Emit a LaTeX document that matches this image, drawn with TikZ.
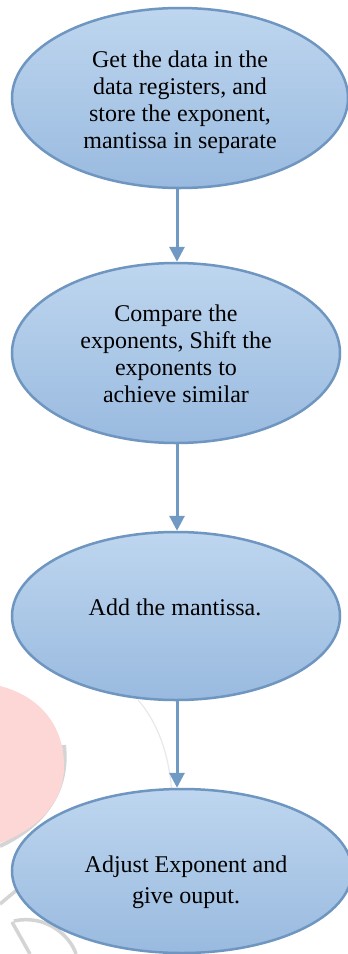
\documentclass[tikz,border=0pt]{standalone}
\usepackage{fontspec}
\setmainfont{Liberation Serif}
\usetikzlibrary{shapes.geometric,arrows.meta}
\definecolor{flowtop}{RGB}{190,214,239}
\definecolor{flowbot}{RGB}{153,186,223}
\definecolor{flowedge}{RGB}{111,150,192}
\definecolor{flowarrow}{RGB}{112,153,196}
\definecolor{markpink}{RGB}{253,214,214}
\definecolor{markgray}{RGB}{212,212,212}
\definecolor{markfaint}{RGB}{232,232,232}
\tikzset{
  stage/.style={ellipse, draw=flowedge, line width=2.5pt, top color=flowtop,
    bottom color=flowbot, inner sep=0pt},
  stagetext/.style={align=center, inner sep=0pt,
    font=\fontsize{24}{27}\selectfont},
  flow/.style={draw=flowarrow, line width=3pt,
    -{Triangle[length=15pt,width=15pt]}},
}
\begin{document}
\begin{tikzpicture}[x=1pt,y=-1pt]
\clip (0,0) rectangle (348,954);
\fill[white] (0,0) rectangle (348,954);

% faint background logo
\draw[markgray, line width=4pt] (64,745) .. controls (69,790) and (45,825) .. (0,846);
\fill[markpink] (0,686) .. controls (35,695) and (62,720) .. (64,762)
  .. controls (66,800) and (40,828) .. (0,843) -- cycle;
\draw[markfaint, line width=1.2pt] (138,700) .. controls (160,725) and (170,760) .. (172,795);
\draw[markgray, line width=3.5pt] (0,904) -- (24,884);
\draw[markgray, line width=3.5pt] (12,922) -- (30,954);
\draw[markgray, line width=3.5pt] (14,921) .. controls (45,914) and (70,935) .. (76,954);

% flow stages
\node[stage, minimum width=336pt, minimum height=180pt] (e1) at (180,98) {};
\node[stage, minimum width=328pt, minimum height=180pt] (e2) at (176,353) {};
\node[stage, minimum width=328pt, minimum height=168pt] (e3) at (176,616) {};
\node[stage, minimum width=340pt, minimum height=164pt] (e4) at (182,871) {};

\node[stagetext] (t1) at (180,102) {Get the data in the\\data registers, and\\store the exponent,\\mantissa in separate};
\node[stagetext] (t2) at (176,354) {Compare the\\exponents, Shift the\\exponents to\\achieve similar};
\node[stagetext] (t3) at (175,607) {Add the mantissa.};
\node[stagetext, font=\fontsize{24}{31}\selectfont] (t4) at (186,882) {Adjust Exponent and\\give ouput.};

% connectors
\coordinate (ax) at (177,0);
\draw[flow] (e1.south -| ax) -- (e2.north -| ax);
\draw[flow] (e2.south -| ax) -- (e3.north -| ax);
\draw[flow] (e3.south -| ax) -- (e4.north -| ax);
\end{tikzpicture}
\end{document}
